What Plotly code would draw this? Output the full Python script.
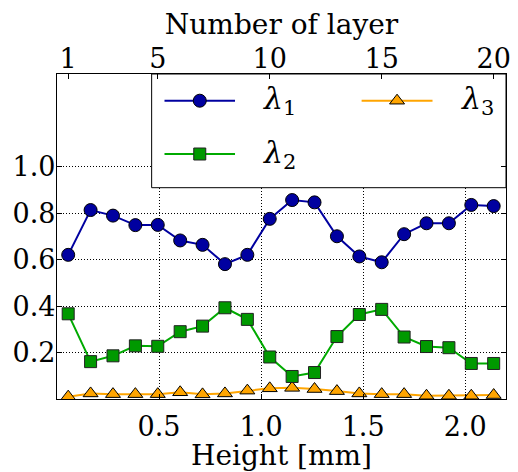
import plotly.graph_objects as go

# ---- data ----
layers = list(range(1, 21))
lambda1 = [0.621, 0.814, 0.790, 0.749, 0.750, 0.683, 0.664, 0.581, 0.621, 0.776,
           0.857, 0.847, 0.701, 0.614, 0.589, 0.710, 0.757, 0.757, 0.836, 0.831]
lambda2 = [0.367, 0.161, 0.186, 0.229, 0.227, 0.290, 0.314, 0.393, 0.343, 0.181,
           0.097, 0.114, 0.269, 0.364, 0.386, 0.267, 0.226, 0.221, 0.153, 0.153]
lambda3 = [0.010, 0.024, 0.021, 0.021, 0.021, 0.029, 0.020, 0.024, 0.036, 0.046,
           0.048, 0.043, 0.034, 0.024, 0.021, 0.021, 0.014, 0.014, 0.014, 0.017]
height_ticks = [0.5, 1.0, 1.5, 2.0]
height_ticklabels = ["0.5", "1.0", "1.5", "2.0"]
layer_ticks = [1, 5, 10, 15, 20]
y_ticks = [0.2, 0.4, 0.6, 0.8, 1.0]
y_ticklabels = ["0.2", "0.4", "0.6", "0.8", "1.0"]
series_names = ["<i>λ</i><sub>1</sub>", "<i>λ</i><sub>2</sub>", "<i>λ</i><sub>3</sub>"]

# ---- styles ----
FONT = "DejaVu Serif"
BLUE = "#0000a0"
GREEN_LINE = "#00aa00"
GREEN_FILL = "#009900"
ORANGE = "#ffa500"

W, H = 518, 472
ML, MR, MT, MB = 57, 7, 74, 73
PW, PH = W - ML - MR, H - MT - MB
XR = [0, 2.2]
YR = [0, 1.4]

fig = go.Figure()

styles = [
    dict(line=dict(color=BLUE, width=2),
         marker=dict(symbol="circle", size=13, color=BLUE, line=dict(color="#000000", width=1))),
    dict(line=dict(color=GREEN_LINE, width=2),
         marker=dict(symbol="square", size=12, color=GREEN_FILL, line=dict(color="#222222", width=1))),
    dict(line=dict(color=ORANGE, width=2),
         marker=dict(symbol="triangle-up", size=13, color=ORANGE, line=dict(color="#000000", width=1))),
]

# draw order: lambda3 below, then lambda2, then lambda1 on top
for vals, st in [(lambda3, styles[2]), (lambda2, styles[1]), (lambda1, styles[0])]:
    fig.add_trace(go.Scatter(x=layers, y=vals, xaxis="x2", yaxis="y", mode="lines+markers",
                             line=st["line"], marker=st["marker"], showlegend=False,
                             cliponaxis=True))

# ---- custom legend (matplotlib-like two-column box) ----
def px_x(p):
    return (p - ML) / PW

def px_y(p):
    return (H - MB - p) / PH

legend_entries = [
    (0, 165.7, 237.0, 100.7, 263.0),
    (1, 165.7, 237.0, 154.0, 263.0),
    (2, 365.0, 436.7, 100.7, 463.0),
]
for idx, x0, x1, yy, tx in legend_entries:
    st = styles[idx]
    xm = (x0 + x1) / 2
    fig.add_trace(go.Scatter(x=[px_x(x0), px_x(xm), px_x(x1)], y=[px_y(yy)] * 3,
                             xaxis="x3", yaxis="y3", mode="lines+markers",
                             line=st["line"],
                             marker=dict(symbol=st["marker"]["symbol"], size=st["marker"]["size"],
                                         color=st["marker"]["color"], line=st["marker"]["line"],
                                         opacity=[0, 1, 0]),
                             showlegend=False, hoverinfo="skip"))
    fig.add_annotation(x=px_x(tx), y=px_y(yy), xref="paper", yref="paper",
                       text=series_names[idx], showarrow=False, xanchor="left", yanchor="middle",
                       font=dict(family=FONT, size=30, color="black"))

fig.add_shape(type="rect", xref="x", yref="y",
              x0=XR[0] + px_x(152.7) * (XR[1] - XR[0]), x1=XR[1],
              y0=YR[0] + px_y(187.7) * (YR[1] - YR[0]), y1=YR[1],
              fillcolor="white", line=dict(color="black", width=1), layer="between")

tick_font = dict(family=FONT, size=27, color="black")
title_font = dict(family=FONT, size=28, color="black")

fig.update_layout(
    width=W, height=H,
    margin=dict(l=ML, r=MR, t=MT, b=MB, pad=0),
    paper_bgcolor="white", plot_bgcolor="white",
    font=dict(family=FONT, size=28, color="black"),
    xaxis=dict(range=XR, tickvals=height_ticks, ticktext=height_ticklabels,
               ticks="inside", ticklen=5, tickcolor="black", tickwidth=1,
               showline=True, linecolor="black", linewidth=1.3, mirror=False,
               showgrid=True, gridcolor="black", gridwidth=1, griddash="1px,2px",
               zeroline=False, tickfont=tick_font, ticklabelstandoff=3,
               title=dict(text="Height [mm]", font=title_font, standoff=0)),
    xaxis2=dict(range=[0.5, 20.55], overlaying="x", side="top", anchor="y",
                tickvals=layer_ticks, ticks="inside", ticklen=5, tickcolor="black",
                showline=True, linecolor="black", linewidth=1.3,
                showgrid=False, zeroline=False, tickfont=tick_font, ticklabelstandoff=-6,
                title=dict(text="Number of layer", font=title_font, standoff=0)),
    xaxis3=dict(range=[0, 1], overlaying="x", visible=False, anchor="y3"),
    yaxis=dict(range=YR, tickvals=y_ticks, ticktext=y_ticklabels,
               ticks="inside", ticklen=5, tickcolor="black", tickwidth=1,
               showline=True, linecolor="black", linewidth=1.3, mirror="ticks",
               showgrid=True, gridcolor="black", gridwidth=1, griddash="1px,2px",
               zeroline=False, tickfont=tick_font, ticklabelstandoff=-5),
    yaxis3=dict(range=[0, 1], overlaying="y", visible=False, anchor="x3"),
)

fig.write_html("out.html")
